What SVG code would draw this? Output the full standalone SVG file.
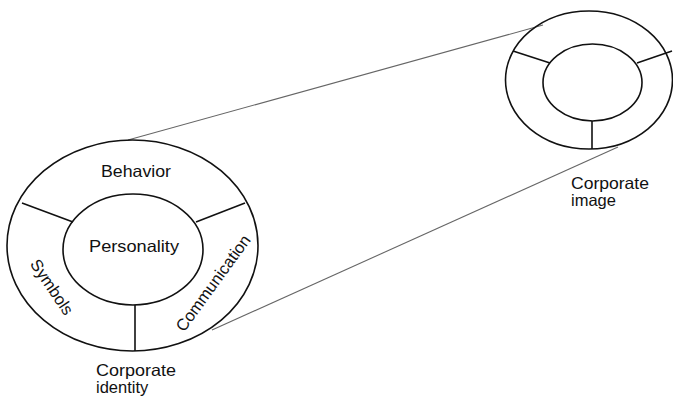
<svg xmlns="http://www.w3.org/2000/svg" width="673" height="396" viewBox="0 0 673 396">
<style>
.ring{fill:none;stroke:#111;stroke-width:1.6}
.div{stroke:#111;stroke-width:1.6}
.conn{stroke:#666;stroke-width:1.1;fill:none}
text{font-family:"Liberation Sans",Arial,sans-serif;font-size:16.5px;fill:#111}
</style>
<rect width="673" height="396" fill="#fff"/>
<g id="connectors">
<line class="conn" x1="128" y1="140" x2="543" y2="25"/>
<line class="conn" x1="212" y1="330" x2="618" y2="147"/>
</g>
<g id="corporate-identity">
<ellipse class="ring" cx="132.5" cy="245.5" rx="125.5" ry="105.5"/>
<ellipse class="ring" cx="133" cy="249.5" rx="70" ry="55.5"/>
<line class="div" x1="22" y1="203" x2="73" y2="222"/>
<line class="div" x1="196" y1="222" x2="245" y2="203"/>
<line class="div" x1="135" y1="305" x2="135" y2="351"/>
<text x="136" y="177" text-anchor="middle" textLength="70" lengthAdjust="spacingAndGlyphs">Behavior</text>
<text x="134" y="252" text-anchor="middle" textLength="90" lengthAdjust="spacingAndGlyphs">Personality</text>
<text transform="translate(52 287) rotate(56)" text-anchor="middle" dy="0.35em">Symbols</text>
<text transform="translate(213 283) rotate(-54)" text-anchor="middle" dy="0.35em">Communication</text>
<text x="96" y="376" textLength="80" lengthAdjust="spacingAndGlyphs">Corporate</text>
<text x="96" y="393">identity</text>
</g>
<g id="corporate-image">
<ellipse class="ring" cx="589" cy="80" rx="83.5" ry="69"/>
<ellipse class="ring" cx="592.5" cy="82.5" rx="49.5" ry="38.5"/>
<line class="div" x1="513" y1="51" x2="550" y2="63"/>
<line class="div" x1="637" y1="63" x2="672" y2="51"/>
<line class="div" x1="592" y1="121" x2="592" y2="149"/>
<text x="571" y="189" textLength="78" lengthAdjust="spacingAndGlyphs">Corporate</text>
<text x="571" y="206">image</text>
</g>
</svg>
